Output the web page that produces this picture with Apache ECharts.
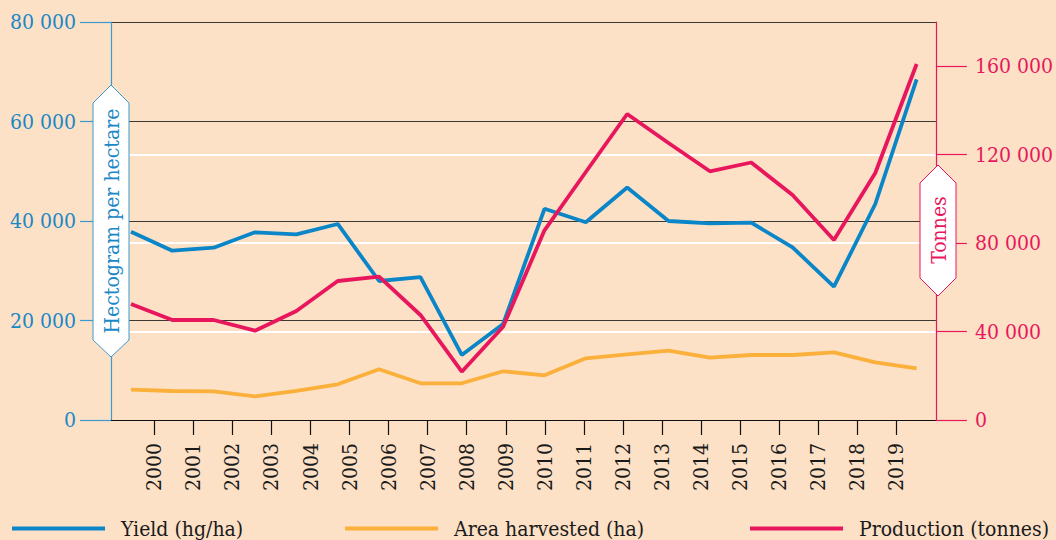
<!DOCTYPE html>
<html><head><meta charset="utf-8">
<style>html,body{margin:0;padding:0;background:#fce1c6;}#c{width:1056px;height:540px;}</style>
<script src="https://cdn.jsdelivr.net/npm/echarts@6/dist/echarts.min.js"></script>
</head><body><div id="c"></div>
<script>
const years = [2000,2001,2002,2003,2004,2005,2006,2007,2008,2009,2010,2011,2012,2013,2014,2015,2016,2017,2018,2019];
const yieldHgHa = [37850,34030,34630,37730,37330,39400,27940,28740,13070,19300,42450,39740,46730,40000,39540,39660,34710,26790,43420,68480];
const areaHa = [13700,13120,12980,10720,13120,16150,22930,16600,16600,22030,20220,27900,29710,31340,28180,29400,29400,30620,26100,23380];
const productionT = [52460,45230,45230,40390,49300,62860,64810,47490,21840,42200,85790,112160,138390,125280,112480,116460,101760,81410,111710,161000];
const leftTicks = [0,20000,40000,60000,80000];
const rightTicks = [0,40000,80000,120000,160000];
const seriesNames = ['Yield (hg/ha)','Area harvested (ha)','Production (tonnes)'];
const leftAxisTitle = 'Hectogram per hectare';
const rightAxisTitle = 'Tonnes';

const FONT = "'DejaVu Serif Condensed','DejaVu Serif',serif";
const BLUE = '#0a86c8', BLUE_AX = '#3d9ad1', BLUE_TXT = '#1a87c6';
const PINK = '#e8175d', ORANGE = '#fbb03b';
const fmt = v => String(v).replace(/\B(?=(\d{3})+(?!\d))/g, ' ');
const pair = arr => arr.map((v, i) => [years[i], v]);

const chart = echarts.init(document.getElementById('c'), null, {renderer: 'svg'});
const legendBase = (left, name) => ({
  left: left, top: 513, icon: 'rect', itemWidth: 93, itemHeight: 4, data: [name],
  textStyle: {fontFamily: FONT, fontSize: 21, color: '#1a1a1a', padding: [0, 0, 0, 11]},
  selectedMode: false
});
chart.setOption({
  backgroundColor: '#fce1c6',
  animation: false,
  grid: [
    {left: 111, right: 119, top: 22, bottom: 120},
    {left: 134.8, width: 781, top: 22, bottom: 120}
  ],
  xAxis: [
    {type: 'value', gridIndex: 0, min: 1999.517, max: 2019.466,
     axisLine: {show: true, onZero: false, lineStyle: {color: '#111', width: 1.2}},
     axisTick: {show: false}, axisLabel: {show: false}, splitLine: {show: false}},
    {type: 'category', gridIndex: 1, data: years.map(String),
     axisLine: {show: false},
     axisTick: {show: true, alignWithLabel: true, length: 15, lineStyle: {color: '#111', width: 1.2}},
     axisLabel: {rotate: 90, margin: 23, fontFamily: FONT, fontSize: 21, color: '#1a1a1a'},
     splitLine: {show: false}}
  ],
  yAxis: [
    {type: 'value', gridIndex: 0, position: 'left', min: 0, max: 80000, interval: 20000,
     axisLine: {show: true, lineStyle: {color: BLUE_AX, width: 1.2}},
     axisTick: {show: true, length: 31, lineStyle: {color: BLUE_AX, width: 1.2}},
     axisLabel: {margin: 35, formatter: fmt, fontFamily: FONT, fontSize: 21, color: BLUE_TXT, customValues: leftTicks},
     splitLine: {show: true, showMinLine: false, lineStyle: {color: '#3e3833', width: 1.2}}},
    {type: 'value', gridIndex: 0, position: 'right', min: 0, max: 180000, interval: 40000,
     axisLine: {show: true, lineStyle: {color: PINK, width: 1.2}},
     axisTick: {show: true, length: 31, lineStyle: {color: PINK, width: 1.2}, customValues: rightTicks},
     axisLabel: {margin: 39, formatter: fmt, fontFamily: FONT, fontSize: 21, color: PINK, customValues: rightTicks},
     splitLine: {show: true, showMinLine: false, showMaxLine: false, lineStyle: {color: '#ffffff', width: 2}}},
    {type: 'value', gridIndex: 1, show: false}
  ],
  legend: [legendBase(7, seriesNames[0]), legendBase(340, seriesNames[1]), legendBase(745, seriesNames[2])],
  series: [
    {name: seriesNames[0], type: 'line', xAxisIndex: 0, yAxisIndex: 0, data: pair(yieldHgHa), symbol: 'none', lineStyle: {color: BLUE, width: 3.8}, itemStyle: {color: BLUE}},
    {name: seriesNames[1], type: 'line', xAxisIndex: 0, yAxisIndex: 1, data: pair(areaHa), symbol: 'none', lineStyle: {color: ORANGE, width: 3.8}, itemStyle: {color: ORANGE}},
    {name: seriesNames[2], type: 'line', xAxisIndex: 0, yAxisIndex: 1, data: pair(productionT), symbol: 'none', lineStyle: {color: PINK, width: 3.8}, itemStyle: {color: PINK}}
  ],
  graphic: [
    {type: 'polygon', z: 100, shape: {points: [[93,103],[111,85],[129,103],[129,340],[111,357],[93,340]]},
     style: {fill: '#ffffff', stroke: BLUE_AX, lineWidth: 1}},
    {type: 'text', z: 101, x: 112, y: 221, rotation: Math.PI / 2,
     style: {text: leftAxisTitle, fill: BLUE_TXT, font: '21px ' + FONT, align: 'center', verticalAlign: 'middle'}},
    {type: 'polygon', z: 100, shape: {points: [[920,183],[938,165],[956,183],[956,278],[938,296],[920,278]]},
     style: {fill: '#ffffff', stroke: PINK, lineWidth: 1}},
    {type: 'text', z: 101, x: 939, y: 230, rotation: Math.PI / 2,
     style: {text: rightAxisTitle, fill: PINK, font: '21px ' + FONT, align: 'center', verticalAlign: 'middle'}}
  ]
});
</script></body></html>
